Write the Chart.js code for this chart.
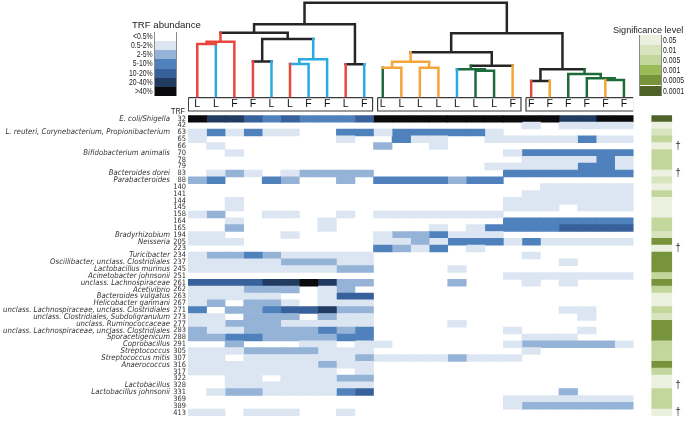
<!DOCTYPE html>
<html>
<head>
<meta charset="utf-8">
<script src="https://cdn.jsdelivr.net/npm/chart.js@4.4.1/dist/chart.umd.min.js"></script>
<style>
  body { margin: 0; background: #fff; }
  #lienzo { position: relative; width: 689px; height: 425px; overflow: hidden; font-family: 'Liberation Sans', Arial, sans-serif; color: #222; }
  canvas { position: absolute; left: 0; top: 0; }
  .abs { position: absolute; white-space: nowrap; }
  .caja { position: absolute; border: 1px solid #8a8a8a; box-sizing: border-box; }
  .estrecha { font-size: 8.6px; color: #222; transform: scaleX(0.8); }
</style>
</head>
<body>
<div id="lienzo">
  <canvas id="dendro" width="689" height="113"></canvas>
  <canvas id="mapa" width="689" height="425"></canvas>
  <div id="leyendas"></div>
</div>
<script>
//Datos de las muestras (columnas)
const muestras = ['L','L','F','F','L','L','F','F','L','F','L','L','L','L','L','L','L','F','F','F','F','F','F','F'];
const grupos = [[0, 10], [10, 18], [18, 24]];
const colorHoja = 'rcrrcrccrcgooocggoroggog';

//Dendrograma: [hijo izq, hijo der, altura, color]  hojas 0-23, nodos 24+
const uniones = [
    [0, 1, 52.0, 'r'],
    [24, 2, 54.3, 'r'],
    [3, 4, 34.5, 'k'],
    [5, 6, 32.0, 'c'],
    [27, 7, 36.7, 'c'],
    [26, 28, 57.0, 'k'],
    [25, 29, 63.2, 'k'],
    [8, 9, 31.7, 'k'],
    [30, 31, 71.8, 'k'],
    [10, 11, 28.3, 'o'],
    [12, 13, 28.3, 'o'],
    [33, 34, 34.3, 'o'],
    [15, 16, 25.3, 'g'],
    [14, 36, 26.7, 'g'],
    [37, 17, 30.3, 'k'],
    [35, 38, 43.7, 'k'],
    [18, 19, 15.0, 'k'],
    [22, 23, 16.0, 'g'],
    [21, 41, 17.7, 'g'],
    [20, 42, 22.0, 'g'],
    [40, 43, 26.7, 'k'],
    [39, 44, 62.7, 'k'],
    [32, 45, 93.3, 'k']
];

//Filas: fragmentos TRF y especies
const trf = [32, 42, 63, 65, 66, 70, 78, 79, 83, 88, 140, 141, 144, 145, 158, 164, 165, 194, 205, 223,
             234, 237, 245, 251, 261, 262, 263, 267, 271, 273, 277, 283, 288, 291, 305, 307, 316, 317,
             322, 328, 331, 369, 389, 413];
const especies = ['E. coli/Shigella', '', 'L. reuteri, Corynebacterium, Propionibacterium', '', '',
    'Bifidobacterium animalis', '', '', 'Bacteroides dorei', 'Parabacteroides', '', '', '', '', '', '', '',
    'Bradyrhizobium', 'Neisseria', '', 'Turicibacter', 'Oscillibacter, unclass. Clostridiales',
    'Lactobacillus murinus', 'Acinetobacter johnsonii', 'unclass. Lachnospiraceae', 'Acetivibrio',
    'Bacteroides vulgatus', 'Helicobacter ganmani', 'unclass. Lachnospiraceae, unclass. Clostridiales',
    'unclass. Clostridiales, Subdoligranulum', 'unclass. Ruminococcaceae',
    'unclass. Lachnospiraceae, unclass. Clostridiales', 'Sporacetigenicum', 'Coprobacillus',
    'Streptococcus', 'Streptococcus mitis', 'Anaerococcus', '', '', 'Lactobacillus',
    'Lactobacillus johnsonii', '', '', ''];

//Abundancia por fila: un dígito por muestra = índice en nivelesTRF
const abundancia = [
    '655434333466666666665566',
    '000000000000000000101111',
    '131311003313333310000000',
    '100000001003110011111311',
    '010000000020010000000000',
    '001000000000000001333333',
    '000000000000000000111131',
    '000000000000000011111331',
    '012101222200000003333333',
    '230032002033332330000000',
    '000000000000000000011111',
    '000000000000000000111111',
    '001000000000000001111111',
    '001000000000000001110111',
    '120011001011111110000000',
    '001000010000000003333333',
    '002000010000010133334444',
    '110001000012231110000000',
    '111000000011213331311111',
    '000000000032130100000000',
    '122321111100000000100000',
    '111112221100000000001000',
    '111111112200001000000000',
    '000000000000000001111111',
    '444455652200002000101000',
    '111222012000000000000000',
    '111110014400000000000000',
    '120221011100000000000000',
    '302234452200000000001100',
    '110222021100000000000100',
    '112221111100001000000000',
    '211222232300000001000100',
    '223322223300000000111000',
    '002000110110000001222221',
    '111222211100000000100000',
    '110111111211112111000000',
    '111111121100000000000000',
    '111111110100000000000000',
    '001101112200000000000000',
    '001111111100000000000000',
    '012211113400000000002000',
    '000000000000000001111111',
    '000000000000000001222222',
    '110111001000000000000000'
];

//Nivel de significancia por fila = índice en nivelesSig
const significancia = [5, 0, 1, 2, 0, 2, 2, 2, 0, 1, 0, 2, 0, 0, 0, 2, 2, 1, 4, 0, 4, 4, 4, 2, 4, 2,
                       0, 0, 2, 1, 4, 4, 4, 2, 2, 2, 4, 2, 0, 0, 2, 2, 2, 0];
const marcaTRF = [66, 83, 223, 328, 413];

const nivelesTRF = ['<0.5%', '0.5-2%', '2-5%', '5-10%', '10-20%', '20-40%', '>40%'];
const nivelesSig = ['0.05', '0.01', '0.005', '0.001', '0.0005', '0.0001'];

//Colores
const colAbund = ['rgba(255,255,255,0)', '#dce6f2', '#95b3d7', '#4f81bd', '#38609a', '#213b60', '#0b0b0d'];
const colLeyAbund = ['#ffffff', '#dce6f2', '#95b3d7', '#4f81bd', '#38609a', '#213b60', '#0b0b0d'];
const colSig = ['#ebf1de', '#d7e4bd', '#c3d69b', '#9bbb59', '#77933c', '#4f6228'];
const colRama = { r: '#e8473d', c: '#29abe2', o: '#f5a53a', g: '#1d6b3b', k: '#262626' };

const anchoCol = 18.55;
const izq = 188;
const fuenteEstrecha = "'Liberation Sans Narrow', 'Arial Narrow', 'DejaVu Sans Condensed', 'Liberation Sans', Arial, sans-serif";

//Tamaño de letra para que un texto ocupe un ancho dado (la fuente estrecha puede faltar)
function tamanoAjustado(texto, ancho, estilo) {
    const c = document.createElement('canvas').getContext('2d');
    c.font = (estilo || '') + ' 10px ' + fuenteEstrecha;
    return +(10 * ancho / c.measureText(texto).width).toFixed(2);
}

//Segmentos del dendrograma a partir de las uniones
function segmentosDendro() {
    const pos = [], alt = [], col = [];
    muestras.forEach((m, i) => { pos[i] = i + 0.5; alt[i] = 0; col[i] = colorHoja[i]; });
    const segs = { k: [], r: [], c: [], o: [], g: [] };
    uniones.forEach((u, k) => {
        const [a, b, h, c] = u;
        const id = muestras.length + k;
        pos[id] = (pos[a] + pos[b]) / 2;
        alt[id] = h;
        col[id] = c;
        [a, b].forEach(hijo => {
            segs[col[hijo]].push({x: pos[hijo], y: alt[hijo]}, {x: pos[hijo], y: h}, {x: pos[hijo], y: null});
        });
        segs[c].push({x: pos[a], y: h}, {x: pos[b], y: h}, {x: pos[b], y: null});
    });
    return segs;
}

//Etiquetas L/F dentro de las cajas
const etiquetasMuestra = {
    id: 'etiquetasMuestra',
    afterDatasetsDraw(chart) {
        const {ctx, scales: {x, y}} = chart;
        ctx.save();
        ctx.font = "10.5px 'Liberation Sans', Arial, sans-serif";
        ctx.fillStyle = '#111';
        ctx.textAlign = 'center';
        ctx.textBaseline = 'middle';
        muestras.forEach((m, i) => ctx.fillText(m, x.getPixelForValue(i + 0.5), y.getPixelForValue(-8.6)));
        ctx.restore();
    }
};

function crearDendrograma() {
    const segs = segmentosDendro();
    const datasets = Object.keys(segs).map(c => ({
        data: segs[c],
        showLine: true,
        spanGaps: false,
        borderColor: colRama[c],
        borderWidth: 2.5,
        borderCapStyle: 'square',
        pointRadius: 0,
        order: c === 'k' ? 2 : 1
    }));
    //Cajas de los grupos
    grupos.forEach(([g0, g1]) => {
        const x0 = g0 + (g0 > 0 ? 0.22 : 0.02);
        const x1 = g1 - (g1 < muestras.length ? 0.05 : -0.05);
        datasets.push({
            data: [{x: x0, y: -1.7}, {x: x1, y: -1.7}, {x: x1, y: -15}, {x: x0, y: -15}, {x: x0, y: -1.7}],
            showLine: true,
            borderColor: '#3a3a3a',
            borderWidth: 1.2,
            pointRadius: 0,
            order: 3
        });
    });
    new Chart(document.getElementById('dendro'), {
        type: 'scatter',
        data: { datasets },
        options: {
            responsive: false,
            animation: false,
            layout: { padding: { left: izq, right: 689 - izq - muestras.length * anchoCol, top: 0, bottom: 0 } },
            scales: {
                x: { type: 'linear', min: 0, max: muestras.length, display: false },
                y: { type: 'linear', min: -17, max: 96, display: false }
            },
            plugins: { legend: { display: false }, tooltip: { enabled: false } }
        },
        plugins: [etiquetasMuestra]
    });
}

function crearMapa() {
    const tamNombre = tamanoAjustado('unclass. Lachnospiraceae, unclass. Clostridiales', 167, 'italic');
    const tamNumero = tamanoAjustado('140', 12.7);
    const datasets = muestras.map((m, c) => ({
        data: trf.map(() => [c, c + 1]),
        backgroundColor: abundancia.map(fila => colAbund[+fila[c]])
    }));
    datasets.push({
        data: trf.map(() => [25, 26.1]),
        backgroundColor: significancia.map(s => colSig[s])
    });
    const ejeTexto = (ancho, extra) => Object.assign({
        type: 'category',
        offset: true,
        grid: { display: false, drawTicks: false },
        border: { display: false },
        afterFit: s => { s.width = ancho; }
    }, extra);
    new Chart(document.getElementById('mapa'), {
        type: 'bar',
        data: { labels: trf.map(String), datasets },
        options: {
            indexAxis: 'y',
            responsive: false,
            animation: false,
            layout: { padding: { top: 115.3, bottom: 4.7, left: 0, right: 0 } },
            datasets: { bar: { grouped: false, barPercentage: 1, categoryPercentage: 1, borderWidth: 0 } },
            scales: {
                x: { type: 'linear', min: 0, max: 26.1, display: false },
                y: ejeTexto(16, {
                    position: 'left', weight: 0,
                    ticks: { autoSkip: false, padding: 2, color: '#333', font: { family: fuenteEstrecha, size: tamNumero } }
                }),
                nombres: ejeTexto(172, {
                    labels: especies, position: 'left', weight: 1,
                    ticks: { autoSkip: false, padding: 2, color: '#333', font: { family: fuenteEstrecha, size: tamNombre, style: 'italic' } }
                }),
                marca: ejeTexto(689 - izq - 26.1 * anchoCol, {
                    labels: trf.map(t => marcaTRF.includes(t) ? '†' : ''), position: 'right',
                    ticks: { autoSkip: false, padding: 3, color: '#333', font: { family: "'Liberation Sans', Arial", size: 10 } }
                })
            },
            plugins: { legend: { display: false }, tooltip: { enabled: false } }
        }
    });
}

//Leyendas en HTML
function crearLeyendas() {
    let html = '';
    html += '<div class="abs" style="left:132px;top:19.5px;font-size:9.6px;line-height:10px">TRF abundance</div>';
    html += '<div class="caja" style="left:154px;top:31.5px;width:23px;height:64.5px"></div>';
    nivelesTRF.forEach((n, i) => {
        const top = 32 + i * 9.14;
        html += `<div class="abs" style="left:155px;top:${top}px;width:21px;height:9.14px;background:${colLeyAbund[i]}"></div>`;
        html += `<div class="abs estrecha" style="left:100px;width:52.7px;text-align:right;transform-origin:right center;top:${top}px;line-height:9.14px">${n.replace('<', '&lt;').replace('>', '&gt;')}</div>`;
    });
    html += '<div class="abs" style="left:613px;top:24.5px;font-size:9.1px;line-height:10px">Significance level</div>';
    html += '<div class="caja" style="left:639px;top:34.5px;width:23px;height:61.5px"></div>';
    nivelesSig.forEach((n, i) => {
        const top = 35 + i * 10.1;
        html += `<div class="abs" style="left:640px;top:${top}px;width:21px;height:10.1px;background:${colSig[i]}"></div>`;
        html += `<div class="abs estrecha" style="left:663px;transform-origin:left center;top:${top}px;line-height:10.1px">${n}</div>`;
    });
    html += '<div class="abs estrecha" style="left:150px;width:35px;text-align:right;transform-origin:right center;top:106.5px;line-height:9px;font-size:9px">TRF</div>';
    document.getElementById('leyendas').innerHTML = html;
}

document.addEventListener('DOMContentLoaded', function() {
    crearDendrograma();
    crearMapa();
    crearLeyendas();
});
</script>
</body>
</html>
